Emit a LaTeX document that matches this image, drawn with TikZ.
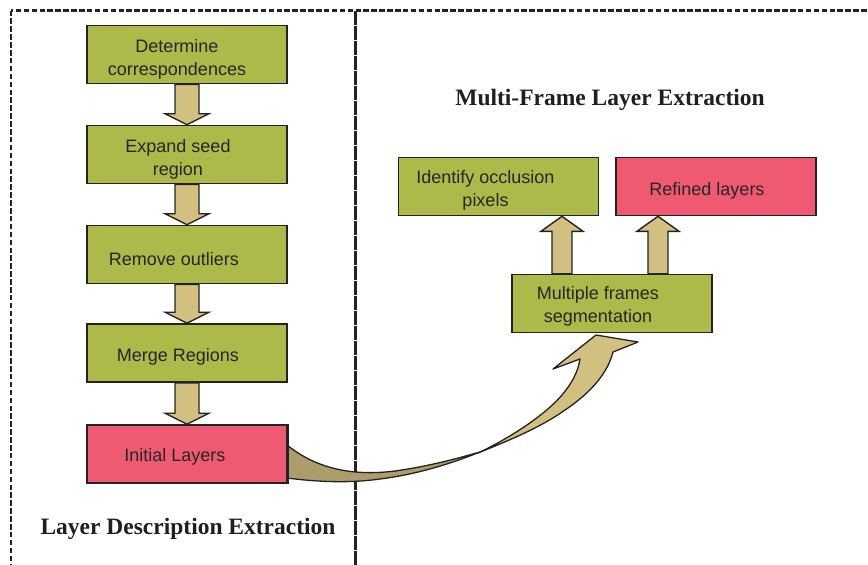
\documentclass[tikz,border=0pt]{standalone}
\usepackage{fontspec}
\setmainfont{Liberation Sans}
\newfontfamily\titlefont{Liberation Serif}
\usetikzlibrary{calc}

\definecolor{boxgreen}{RGB}{173,185,72}
\definecolor{boxpink}{RGB}{239,90,114}
\definecolor{arrowtan}{RGB}{210,192,128}
\definecolor{arrowdark}{RGB}{172,157,108}
\definecolor{edgecol}{RGB}{35,35,35}
\definecolor{txtcol}{RGB}{38,38,38}

\tikzset{
  stepbox/.style={draw=edgecol, line width=1.6pt, minimum width=200pt, minimum height=58pt, inner sep=0pt},
  greenbox/.style={stepbox, fill=boxgreen},
  pinkbox/.style={stepbox, fill=boxpink},
  steplabel/.style={text=txtcol, align=center, inner sep=0pt,
    font=\fontsize{18pt}{23pt}\selectfont},
  paneltitle/.style={text=black!88, inner sep=0pt,
    font=\titlefont\bfseries\fontsize{23.5pt}{28pt}\selectfont},
  blockarrow/.style={draw=edgecol, line width=1.4pt, fill=arrowtan, line join=miter},
  ribbon/.style={draw=edgecol, line width=1.3pt, line join=round},
}

% block arrow pointing down from the bottom of #1 to the top of #2
\newcommand{\blockdown}[2]{%
  \draw[blockarrow] ($(#1.south)+(-12,0)$) -- ($(#2.north)+(-12,-11)$)
    -- ($(#2.north)+(-22,-11)$) -- (#2.north) -- ($(#2.north)+(22,-11)$)
    -- ($(#2.north)+(12,-11)$) -- ($(#1.south)+(12,0)$) -- cycle;}
% block arrow pointing up from coordinate #1 (base) to coordinate #2 (tip)
\newcommand{\blockup}[2]{%
  \draw[blockarrow] ($(#1)+(-10,0)$) -- ($(#2)+(-10,15)$) -- ($(#2)+(-21,15)$)
    -- (#2) -- ($(#2)+(21,15)$) -- ($(#2)+(10,15)$) -- ($(#1)+(10,0)$) -- cycle;}

\begin{document}
\begin{tikzpicture}[x=1pt, y=-1pt]
\useasboundingbox (0,0) rectangle (868,565);
\clip (0,0) rectangle (868,565);

% outer dashed frame and panel divider
\draw[edgecol, line width=2.9pt, dash pattern=on 5.5pt off 2.4pt] (11,10.5) rectangle (900,600);
\draw[edgecol, line width=2.4pt, dash pattern=on 14pt off 1pt] (355.5,10.5) -- (355.5,570);

% left column of steps
\node[greenbox] (b1) at (187,54.5) {};
\node[greenbox] (b2) at (187,154.5) {};
\node[greenbox] (b3) at (187,254.5) {};
\node[greenbox] (b4) at (187,353) {};
\node[pinkbox]  (b5) at (187,454) {};

% right panel boxes
\node[greenbox] (id) at (498.5,186.5) {};
\node[pinkbox]  (rf) at (716,186.5) {};
\node[greenbox] (mf) at (612,303.5) {};

% twisted ribbon arrow from the initial layers to the multi-frame step
\path[ribbon, fill=arrowdark]
  (287,445) .. controls (318,470) and (355,476) .. (395,471)
  .. controls (430,466) and (455,459) .. (480,452)
  .. controls (455,462) and (420,474) .. (380,479)
  .. controls (345,484) and (310,481) .. (287,478) -- cycle;
\path[ribbon, fill=arrowtan]
  (478,453) .. controls (510,438) and (545,415) .. (562,395)
  .. controls (572,383) and (578,372) .. (580,359)
  -- (553,369) -- (596,335) -- (638,342) -- (613,352)
  .. controls (608,372) and (592,392) .. (565,410)
  .. controls (540,428) and (505,442) .. (478,453) -- cycle;
\draw[edgecol, line width=1.6pt] (b5.north east) -- (b5.south east);

% arrows between the steps
\blockdown{b1}{b2}
\blockdown{b2}{b3}
\blockdown{b3}{b4}
\blockdown{b4}{b5}

\coordinate (upA) at ($(mf.north)+(-50,0)$);
\coordinate (upB) at ($(mf.north)+(46,0)$);
\coordinate (tipA) at (upA |- id.south);
\coordinate (tipB) at (upB |- rf.south);
\blockup{upA}{tipA}
\blockup{upB}{tipB}

% step labels
\node[steplabel] (t1) at ($(b1)+(-10,4.5)$) {Determine\\correspondences};
\node[steplabel] (t2) at ($(b2)+(-9,4.5)$) {Expand seed\\region};
\node[steplabel] (t3) at ($(b3)+(-13,4.5)$) {Remove outliers};
\node[steplabel] (t4) at ($(b4)+(-9,4)$) {Merge Regions};
\node[steplabel] (t5) at ($(b5)+(-12,3)$) {Initial Layers};
\node[steplabel] (t6) at ($(id)+(-13,3.5)$) {Identify occlusion\\pixels};
\node[steplabel] (t7) at ($(rf)+(-9,4.5)$) {Refined layers};
\node[steplabel] (t8) at ($(mf)+(-14,3)$) {Multiple frames\\segmentation};

% panel titles
\node[paneltitle] (p1) at (610,100) {Multi-Frame Layer Extraction};
\node[paneltitle] (p2) at (188,529) {Layer Description Extraction};
\end{tikzpicture}
\end{document}
